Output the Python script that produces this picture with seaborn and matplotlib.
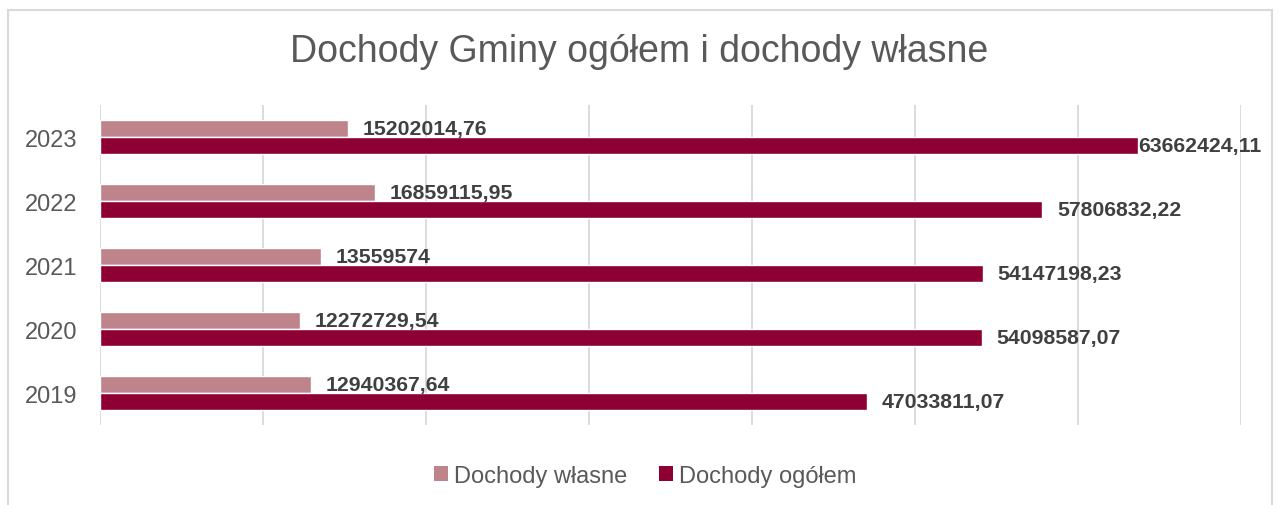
import seaborn as sns
import matplotlib.pyplot as plt
import pandas as pd
from matplotlib.patches import Rectangle, Patch

# Data
years = ["2023", "2022", "2021", "2020", "2019"]
dochody_wlasne = [15202014.76, 16859115.95, 13559574, 12272729.54, 12940367.64]
dochody_ogolem = [63662424.11, 57806832.22, 54147198.23, 54098587.07, 47033811.07]
series_names = ["Dochody własne", "Dochody ogółem"]

col_light = "#BE838B"
col_dark = "#8E0034"
grid_col = "#D9D9D9"
text_col = "#595959"
label_col = "#404040"

df = pd.DataFrame({
    "Rok": years * 2,
    "Wartość": dochody_wlasne + dochody_ogolem,
    "Seria": [series_names[0]] * len(years) + [series_names[1]] * len(years),
})

sns.set_style("white")
plt.rcParams["font.family"] = ["Liberation Sans", "DejaVu Sans"]

fig = plt.figure(figsize=(12.78, 5.06), dpi=100)
ax = fig.add_axes([0.0782, 0.158, 0.971 - 0.0782, 0.7905 - 0.158])

sns.barplot(data=df, y="Rok", x="Wartość", hue="Seria", order=years,
            hue_order=series_names, palette=[col_light, col_dark],
            orient="h", width=0.52, ax=ax, legend=False, saturation=1)

ax.set_xlim(0, 70_000_000)
ax.set_xticks(range(0, 70_000_001, 10_000_000))
ax.set_xticklabels([])
ax.tick_params(axis="x", length=0)
ax.tick_params(axis="y", length=0, labelsize=17, labelcolor=text_col, pad=16)
ax.grid(axis="x", color=grid_col, linewidth=1.3)
ax.set_axisbelow(True)
for s in ax.spines.values():
    s.set_visible(False)
ax.set_xlabel("")
ax.set_ylabel("")

# data labels
max_v = max(dochody_ogolem)
for cont in ax.containers:
    for bar in cont:
        v = bar.get_width()
        yc = bar.get_y() + bar.get_height() / 2
        txt = f"{v:.2f}".replace(".", ",")
        if txt.endswith(",00"):
            txt = txt[:-3]
        pad = 1 if v == max_v else 15
        ax.annotate(txt, (v, yc), xytext=(pad, 0), textcoords="offset pixels",
                    ha="left", va="center", fontsize=15.3, color=label_col,
                    fontweight="bold")

fig.suptitle("Dochody Gminy ogółem i dochody własne", x=0.5, y=0.897,
             fontsize=27, color=text_col, va="center")

handles = [Patch(facecolor=col_light, edgecolor="none"),
           Patch(facecolor=col_dark, edgecolor="none")]
fig.legend(handles, series_names, loc="center", bbox_to_anchor=(0.505, 0.057),
           ncol=2, frameon=False, fontsize=17, labelcolor=text_col,
           handlelength=0.6, handleheight=0.6, handletextpad=0.25,
           columnspacing=1.35)

# outer chart frame (bottom cut off)
fig.patches.append(Rectangle((7.5 / 1278, -0.1), (1272 - 7.5) / 1278, 1.1 - 10.5 / 506,
                             transform=fig.transFigure, fill=False,
                             edgecolor="#D9D9D9", linewidth=1.5))

fig.savefig("out.png", dpi=100, facecolor="white")
